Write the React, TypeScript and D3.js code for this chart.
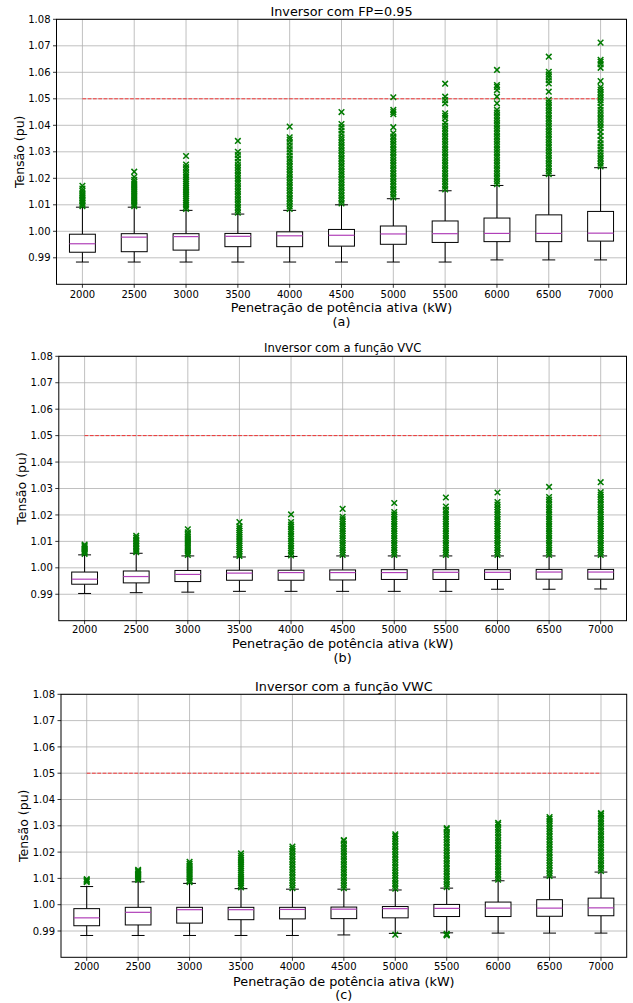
import React from 'react';
import * as d3 from 'd3';

const categories = ['2000', '2500', '3000', '3500', '4000', '4500', '5000', '5500', '6000', '6500', '7000'];
const yTicks = [0.99, 1.0, 1.01, 1.02, 1.03, 1.04, 1.05, 1.06, 1.07, 1.08];
const yDomain = [0.98, 1.08];
const limitValue = 1.05;

// ---------- Panel (a): FP = 0.95 ----------
const fpLow = [0.9884, 0.9884, 0.9884, 0.9884, 0.9884, 0.9884, 0.9884, 0.9884, 0.9892, 0.9892, 0.9892];
const fpQ1 = [0.9921, 0.9923, 0.9929, 0.9942, 0.9942, 0.9944, 0.9951, 0.9958, 0.9961, 0.9961, 0.9963];
const fpMedian = [0.9953, 0.9978, 0.998, 0.9981, 0.9983, 0.9985, 0.999, 0.9991, 0.9992, 0.9992, 0.9993];
const fpQ3 = [0.9989, 0.9991, 0.9991, 0.9992, 0.9998, 1.0007, 1.002, 1.0039, 1.005, 1.0062, 1.0075];
const fpHigh = [1.0091, 1.0091, 1.0079, 1.0065, 1.0079, 1.01, 1.0123, 1.0153, 1.0173, 1.0211, 1.024];
const fpOutliers = [
  [1.0095, 1.0101, 1.0107, 1.0113, 1.0119, 1.0125, 1.0131, 1.0137, 1.0143, 1.0152, 1.0161, 1.0172],
  [1.0095, 1.0101, 1.0108, 1.0115, 1.0122, 1.0129, 1.0136, 1.0143, 1.015, 1.0157, 1.0164, 1.0171, 1.0178, 1.0186, 1.0194, 1.0205, 1.0225],
  [1.0084, 1.0092, 1.01, 1.0108, 1.0116, 1.0124, 1.0132, 1.014, 1.0148, 1.0156, 1.0164, 1.0172, 1.018, 1.0188, 1.0196, 1.0204, 1.0212, 1.0222, 1.0232, 1.0242, 1.0252, 1.0284],
  [1.007, 1.008, 1.009, 1.01, 1.011, 1.012, 1.013, 1.014, 1.015, 1.016, 1.017, 1.018, 1.019, 1.02, 1.021, 1.022, 1.023, 1.024, 1.025, 1.0262, 1.0275, 1.0288, 1.03, 1.0341],
  [1.0084, 1.0094, 1.0104, 1.0114, 1.0124, 1.0134, 1.0144, 1.0154, 1.0164, 1.0174, 1.0184, 1.0194, 1.0204, 1.0214, 1.0224, 1.0234, 1.0244, 1.0254, 1.0264, 1.0274, 1.0286, 1.0298, 1.031, 1.0322, 1.0334, 1.0346, 1.0355, 1.0395],
  [1.0105, 1.0115, 1.0125, 1.0135, 1.0145, 1.0155, 1.0165, 1.0175, 1.0185, 1.0195, 1.0205, 1.0215, 1.0225, 1.0235, 1.0245, 1.0255, 1.0265, 1.0275, 1.0285, 1.0295, 1.0305, 1.0315, 1.0325, 1.0335, 1.0345, 1.0355, 1.0368, 1.038, 1.0393, 1.0405, 1.045],
  [1.0128, 1.0138, 1.0148, 1.0158, 1.0168, 1.0178, 1.0188, 1.0198, 1.0208, 1.0218, 1.0228, 1.0238, 1.0248, 1.0258, 1.0268, 1.0278, 1.0288, 1.0298, 1.0308, 1.0318, 1.0328, 1.0338, 1.0348, 1.0358, 1.037, 1.0393, 1.0442, 1.045, 1.0458, 1.0506],
  [1.0158, 1.0168, 1.0178, 1.0188, 1.0198, 1.0208, 1.0218, 1.0228, 1.0238, 1.0248, 1.0258, 1.0268, 1.0278, 1.0288, 1.0298, 1.0308, 1.0318, 1.0328, 1.0338, 1.0348, 1.0358, 1.0368, 1.0378, 1.0388, 1.0398, 1.041, 1.0427, 1.0436, 1.0445, 1.0483, 1.0495, 1.0508, 1.0557],
  [1.0178, 1.0188, 1.0198, 1.0208, 1.0218, 1.0228, 1.0238, 1.0248, 1.0258, 1.0268, 1.0278, 1.0288, 1.0298, 1.0308, 1.0318, 1.0328, 1.0338, 1.0348, 1.0358, 1.0368, 1.0378, 1.0388, 1.0398, 1.0408, 1.0418, 1.0428, 1.0438, 1.0448, 1.0458, 1.0483, 1.0508, 1.0533, 1.0545, 1.0552, 1.0609],
  [1.0216, 1.0226, 1.0236, 1.0246, 1.0256, 1.0266, 1.0276, 1.0286, 1.0296, 1.0306, 1.0316, 1.0326, 1.0336, 1.0346, 1.0356, 1.0366, 1.0376, 1.0386, 1.0396, 1.0406, 1.0416, 1.0426, 1.0436, 1.0446, 1.0456, 1.0466, 1.0476, 1.0486, 1.0496, 1.0527, 1.0558, 1.057, 1.0582, 1.0592, 1.0602, 1.0659],
  [1.0245, 1.0255, 1.0265, 1.0275, 1.0285, 1.0296, 1.0308, 1.032, 1.0332, 1.0345, 1.036, 1.0375, 1.039, 1.0401, 1.0412, 1.0424, 1.0435, 1.0446, 1.0458, 1.047, 1.0484, 1.0495, 1.0505, 1.0515, 1.0525, 1.0535, 1.0544, 1.0567, 1.0617, 1.063, 1.064, 1.0647, 1.0712],
];

// ---------- Panel (b): VVC ----------
const vvcLow = [0.9903, 0.9906, 0.9908, 0.9911, 0.9911, 0.9911, 0.9911, 0.9911, 0.9919, 0.9919, 0.992];
const vvcQ1 = [0.9938, 0.9943, 0.9948, 0.9953, 0.9953, 0.9954, 0.9956, 0.9956, 0.9956, 0.9957, 0.9957];
const vvcMedian = [0.9957, 0.9967, 0.9975, 0.998, 0.9982, 0.9982, 0.9982, 0.9983, 0.9983, 0.9984, 0.9984];
const vvcQ3 = [0.9984, 0.9988, 0.999, 0.9991, 0.9991, 0.9992, 0.9993, 0.9993, 0.9993, 0.9994, 0.9994];
const vvcHigh = [1.0049, 1.0055, 1.0045, 1.0041, 1.0043, 1.0045, 1.0045, 1.0045, 1.0045, 1.0045, 1.0045];
const vvcOutliers = [
  [1.0053, 1.0058, 1.0063, 1.0068, 1.0073, 1.0078, 1.0083, 1.0088],
  [1.0059, 1.0065, 1.0071, 1.0077, 1.0083, 1.0089, 1.0095, 1.0101, 1.0107, 1.0114, 1.0121],
  [1.0049, 1.0056, 1.0063, 1.007, 1.0077, 1.0084, 1.0091, 1.0098, 1.0105, 1.0112, 1.0119, 1.0126, 1.0134, 1.0146],
  [1.0045, 1.0053, 1.0061, 1.0069, 1.0077, 1.0085, 1.0093, 1.0101, 1.0109, 1.0117, 1.0125, 1.0133, 1.0141, 1.0149, 1.0157, 1.0173],
  [1.0047, 1.0056, 1.0065, 1.0074, 1.0083, 1.0092, 1.0101, 1.011, 1.0119, 1.0128, 1.0137, 1.0146, 1.0155, 1.0164, 1.0173, 1.0202],
  [1.0049, 1.0058, 1.0067, 1.0076, 1.0085, 1.0094, 1.0103, 1.0112, 1.0121, 1.013, 1.0139, 1.0148, 1.0157, 1.0166, 1.0175, 1.0184, 1.0193, 1.0223],
  [1.0049, 1.0058, 1.0067, 1.0076, 1.0085, 1.0094, 1.0103, 1.0112, 1.0121, 1.013, 1.0139, 1.0148, 1.0157, 1.0166, 1.0175, 1.0184, 1.0193, 1.0202, 1.0211, 1.0245],
  [1.0049, 1.0058, 1.0067, 1.0076, 1.0085, 1.0094, 1.0103, 1.0112, 1.0121, 1.013, 1.0139, 1.0148, 1.0157, 1.0166, 1.0175, 1.0184, 1.0193, 1.0202, 1.0211, 1.022, 1.0232, 1.0266],
  [1.0049, 1.0058, 1.0067, 1.0076, 1.0085, 1.0094, 1.0103, 1.0112, 1.0121, 1.013, 1.0139, 1.0148, 1.0157, 1.0166, 1.0175, 1.0184, 1.0193, 1.0202, 1.0211, 1.022, 1.0229, 1.0239, 1.0249, 1.0285],
  [1.0049, 1.0058, 1.0067, 1.0076, 1.0085, 1.0094, 1.0103, 1.0112, 1.0121, 1.013, 1.0139, 1.0148, 1.0157, 1.0166, 1.0175, 1.0184, 1.0193, 1.0202, 1.0211, 1.022, 1.0229, 1.0239, 1.0249, 1.0258, 1.0268, 1.0306],
  [1.0049, 1.0058, 1.0067, 1.0076, 1.0085, 1.0094, 1.0103, 1.0112, 1.0121, 1.013, 1.0139, 1.0148, 1.0157, 1.0166, 1.0175, 1.0184, 1.0193, 1.0202, 1.0211, 1.022, 1.0229, 1.0239, 1.0249, 1.0258, 1.0268, 1.0277, 1.0286, 1.0324],
];

// ---------- Panel (c): VWC ----------
const vwcLow = [0.9883, 0.9883, 0.9883, 0.9883, 0.9883, 0.9885, 0.9891, 0.9893, 0.9892, 0.9892, 0.9892];
const vwcQ1 = [0.992, 0.9923, 0.993, 0.9943, 0.9946, 0.9947, 0.995, 0.9955, 0.9955, 0.9956, 0.9958];
const vwcMedian = [0.995, 0.9971, 0.9981, 0.9981, 0.9982, 0.9983, 0.9985, 0.9986, 0.9987, 0.9987, 0.9988];
const vwcQ3 = [0.9985, 0.999, 0.999, 0.999, 0.999, 0.9991, 0.9993, 1.0001, 1.001, 1.0019, 1.0025];
const vwcHigh = [1.0069, 1.0087, 1.0081, 1.0061, 1.0059, 1.0059, 1.0056, 1.0063, 1.0091, 1.0105, 1.0124];
const vwcOutliers = [
  [1.0086, 1.009, 1.0094, 1.0097],
  [1.0094, 1.0099, 1.0104, 1.0109, 1.0114, 1.0119, 1.0124, 1.0129, 1.0133],
  [1.0086, 1.0093, 1.01, 1.0107, 1.0114, 1.0121, 1.0128, 1.0135, 1.0142, 1.0149, 1.0156, 1.0163],
  [1.0066, 1.0074, 1.0082, 1.009, 1.0098, 1.0106, 1.0114, 1.0122, 1.013, 1.0138, 1.0146, 1.0154, 1.0162, 1.017, 1.0178, 1.0186, 1.0195],
  [1.0063, 1.0073, 1.0083, 1.0093, 1.0103, 1.0113, 1.0123, 1.0133, 1.0143, 1.0153, 1.0163, 1.0173, 1.0183, 1.0193, 1.0203, 1.0213, 1.0221],
  [1.0063, 1.0073, 1.0083, 1.0093, 1.0103, 1.0113, 1.0123, 1.0133, 1.0143, 1.0153, 1.0163, 1.0173, 1.0183, 1.0193, 1.0203, 1.0213, 1.0223, 1.0233, 1.0243, 1.0246],
  [0.9886, 1.0061, 1.0071, 1.0081, 1.0091, 1.0101, 1.0111, 1.0121, 1.0131, 1.0141, 1.0151, 1.0161, 1.0171, 1.0181, 1.0191, 1.0201, 1.0211, 1.0221, 1.0231, 1.0241, 1.0251, 1.0261, 1.0268],
  [0.9883, 0.9885, 0.9887, 0.9889, 1.0067, 1.0077, 1.0087, 1.0097, 1.0107, 1.0117, 1.0127, 1.0137, 1.0147, 1.0157, 1.0167, 1.0177, 1.0187, 1.0197, 1.0207, 1.0217, 1.0227, 1.0237, 1.0247, 1.0257, 1.0267, 1.0277, 1.0287, 1.0291],
  [1.0095, 1.0105, 1.0115, 1.0125, 1.0135, 1.0145, 1.0155, 1.0165, 1.0175, 1.0185, 1.0195, 1.0205, 1.0215, 1.0225, 1.0235, 1.0245, 1.0255, 1.0265, 1.0275, 1.0285, 1.0295, 1.0305, 1.0311],
  [1.0109, 1.0119, 1.0129, 1.0139, 1.0149, 1.0159, 1.0169, 1.0179, 1.0189, 1.0199, 1.0209, 1.0219, 1.0229, 1.0239, 1.0249, 1.0259, 1.0269, 1.0279, 1.0289, 1.0299, 1.0309, 1.0319, 1.0327, 1.0333],
  [1.0128, 1.0138, 1.0148, 1.0158, 1.0168, 1.0178, 1.0188, 1.0198, 1.0208, 1.0218, 1.0228, 1.0238, 1.0248, 1.0258, 1.0268, 1.0278, 1.0288, 1.0298, 1.0308, 1.0318, 1.0328, 1.0338, 1.0345, 1.0348],
];

const titles = ['Inversor com FP=0.95', 'Inversor com a função VVC', 'Inversor com a função VWC'];
const subLabels = ['(a)', '(b)', '(c)'];
const xLabel = 'Penetração de potência ativa (kW)';
const yLabel = 'Tensão (pu)';

const FONT = 'DejaVu Sans, Verdana, sans-serif';

type Layout = {
  left: number; right: number; top: number; bottom: number;
  titleSize: number; titleBase: number; tickBase: number; xlabelBase: number; subBase: number; ylabelX: number; labelSize: number;
};

const layouts: Layout[] = [
  { left: 56.5, right: 626.5, top: 19.3, bottom: 284.3, titleSize: 12.8, titleBase: 15.5, tickBase: 297.6, xlabelBase: 311.6, subBase: 325.5, ylabelX: 24, labelSize: 12.8 },
  { left: 58.8, right: 626.5, top: 356.3, bottom: 620.7, titleSize: 11.6, titleBase: 352.3, tickBase: 632.7, xlabelBase: 647.8, subBase: 662, ylabelX: 26, labelSize: 12.8 },
  { left: 61, right: 626.7, top: 694.3, bottom: 957.3, titleSize: 12.8, titleBase: 690.7, tickBase: 970, xlabelBase: 985.5, subBase: 999, ylabelX: 28, labelSize: 12.8 },
];

type BoxData = { low: number[]; q1: number[]; med: number[]; q3: number[]; high: number[]; out: number[][] };

const panels: BoxData[] = [
  { low: fpLow, q1: fpQ1, med: fpMedian, q3: fpQ3, high: fpHigh, out: fpOutliers },
  { low: vvcLow, q1: vvcQ1, med: vvcMedian, q3: vvcQ3, high: vvcHigh, out: vvcOutliers },
  { low: vwcLow, q1: vwcQ1, med: vwcMedian, q3: vwcQ3, high: vwcHigh, out: vwcOutliers },
];

function Panel({ L, D, title, sub }: { L: Layout; D: BoxData; title: string; sub: string }) {
  const x = d3.scalePoint<string>().domain(categories).range([L.left, L.right]).padding(0.5);
  const y = d3.scaleLinear().domain(yDomain).range([L.bottom, L.top]);
  const step = x.step();
  const boxW = step * 0.5;
  const capW = step * 0.25;
  const fmt = d3.format('.2f');
  const cx = (L.left + L.right) / 2;
  const cy = (L.top + L.bottom) / 2;
  const ms = 2.8;
  const limitLine = d3.line<string>().x((c) => x(c) as number).y(() => y(limitValue));
  const ends = [categories[0], categories[categories.length - 1]];

  return (
    <g>
      {yTicks.map((t) => (
        <line key={'gy' + t} x1={L.left} x2={L.right} y1={y(t)} y2={y(t)} stroke="#b0b0b0" strokeWidth={0.8} />
      ))}
      {categories.map((c) => (
        <line key={'gx' + c} x1={x(c)} x2={x(c)} y1={L.top} y2={L.bottom} stroke="#b0b0b0" strokeWidth={0.8} />
      ))}
      <path d={limitLine(ends) || ''} stroke="#ff0000" strokeOpacity={0.75} strokeWidth={1} strokeDasharray="3.7,1.6" fill="none" />
      {categories.map((c, i) => {
        const px = x(c) as number;
        return (
          <g key={'b' + c}>
            <line x1={px} x2={px} y1={y(D.low[i])} y2={y(D.q1[i])} stroke="#000" strokeWidth={1} />
            <line x1={px} x2={px} y1={y(D.q3[i])} y2={y(D.high[i])} stroke="#000" strokeWidth={1} />
            <line x1={px - capW / 2} x2={px + capW / 2} y1={y(D.low[i])} y2={y(D.low[i])} stroke="#000" strokeWidth={1} />
            <line x1={px - capW / 2} x2={px + capW / 2} y1={y(D.high[i])} y2={y(D.high[i])} stroke="#000" strokeWidth={1} />
            <rect x={px - boxW / 2} y={y(D.q3[i])} width={boxW} height={y(D.q1[i]) - y(D.q3[i])} fill="#fff" stroke="#000" strokeWidth={1} />
            <line x1={px - boxW / 2} x2={px + boxW / 2} y1={y(D.med[i])} y2={y(D.med[i])} stroke="#b040b8" strokeWidth={1.2} />
          </g>
        );
      })}
      {categories.map((c, i) => {
        const px = x(c) as number;
        return (
          <g key={'o' + c} stroke="#007a00" strokeWidth={1.5}>
            {D.out[i].map((v, k) => {
              const py = y(v);
              return <path key={k} d={`M${px - ms},${py - ms}L${px + ms},${py + ms}M${px - ms},${py + ms}L${px + ms},${py - ms}`} fill="none" />;
            })}
          </g>
        );
      })}
      <rect x={L.left} y={L.top} width={L.right - L.left} height={L.bottom - L.top} fill="none" stroke="#000" strokeWidth={1} />
      {yTicks.map((t) => (
        <g key={'yt' + t}>
          <line x1={L.left - 3.5} x2={L.left} y1={y(t)} y2={y(t)} stroke="#000" strokeWidth={0.8} />
          <text x={L.left - 6} y={y(t)} dy="0.36em" textAnchor="end" fontSize={10} fontFamily={FONT} fill="#000">{fmt(t)}</text>
        </g>
      ))}
      {categories.map((c) => (
        <g key={'xt' + c}>
          <line x1={x(c)} x2={x(c)} y1={L.bottom} y2={L.bottom + 3.5} stroke="#000" strokeWidth={0.8} />
          <text x={x(c)} y={L.tickBase} textAnchor="middle" fontSize={10} fontFamily={FONT} fill="#000">{c}</text>
        </g>
      ))}
      <text x={cx} y={L.titleBase} textAnchor="middle" fontSize={L.titleSize} fontFamily={FONT} fill="#000">{title}</text>
      <text x={cx} y={L.xlabelBase} textAnchor="middle" fontSize={L.labelSize} fontFamily={FONT} fill="#000">{xLabel}</text>
      <text x={cx} y={L.subBase} textAnchor="middle" fontSize={L.labelSize} fontFamily={FONT} fill="#000">{sub}</text>
      <text transform={`translate(${L.ylabelX},${cy}) rotate(-90)`} textAnchor="middle" fontSize={12.5} fontFamily={FONT} fill="#000">{yLabel}</text>
    </g>
  );
}

export default function App() {
  return (
    <svg width={633} height={1003} style={{ position: 'absolute', left: 0, top: 0, background: '#fff' }}>
      <rect x={0} y={0} width={633} height={1003} fill="#fff" />
      {layouts.map((L, i) => (
        <Panel key={i} L={L} D={panels[i]} title={titles[i]} sub={subLabels[i]} />
      ))}
    </svg>
  );
}
